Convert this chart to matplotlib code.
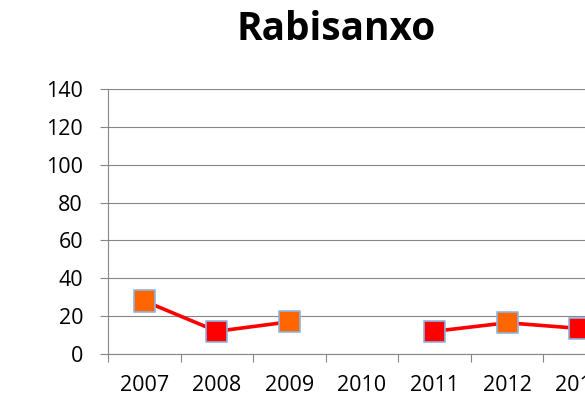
import numpy as np
from matplotlib import pyplot as plt

years = ["2007", "2008", "2009", "2010", "2011", "2012", "2013"]
values = [28, 12, 17, np.nan, 12, 16.5, 13.5]
marker_colors = ["#FF6600", "#FF0000", "#FF6600", "#FF0000", "#FF0000", "#FF6600", "#FF0000"]
y_ticks = [0, 20, 40, 60, 80, 100, 120, 140]

plt.rcParams['font.family'] = ['Open Sans', 'DejaVu Sans']

fig = plt.figure(figsize=(5.85, 4.12), dpi=100)
W, H = 585, 412
ax = fig.add_axes([108 / W, 58 / H, 508 / W, 265 / H])

x = np.arange(len(years))
ax.plot(x, values, color="#FF0000", linewidth=2.6, zorder=3)
ax.scatter(x, values, marker="s", s=230, c=marker_colors,
           edgecolors="#8DB4E2", linewidths=1.2, zorder=4)

ax.set_xlim(-0.5, len(years) - 0.5)
ax.set_ylim(0, 140)
ax.set_yticks(y_ticks)
ax.set_yticklabels([str(t) for t in y_ticks], fontsize=15.5)
ax.yaxis.grid(True, color="#868686", linewidth=0.8)
ax.set_axisbelow(True)

ax.set_xticks(x)
ax.set_xticklabels(years, fontsize=15.5)
ax.set_xticks(np.arange(-0.5, len(years), 1), minor=True)
ax.tick_params(axis="x", which="major", length=0, pad=15)
ax.tick_params(axis="x", which="minor", length=6, width=0.8, color="#868686", direction="out")
ax.tick_params(axis="y", length=6, width=0.8, color="#868686", pad=12)

for side in ["top", "right"]:
    ax.spines[side].set_visible(False)
for side in ["left", "bottom"]:
    ax.spines[side].set_color("#868686")
    ax.spines[side].set_linewidth(0.8)

fig.text(336 / W, 1 - 29 / H, "Rabisanxo", fontsize=28, fontweight="bold",
         ha="center", va="center")

fig.savefig("out.png", dpi=100)
